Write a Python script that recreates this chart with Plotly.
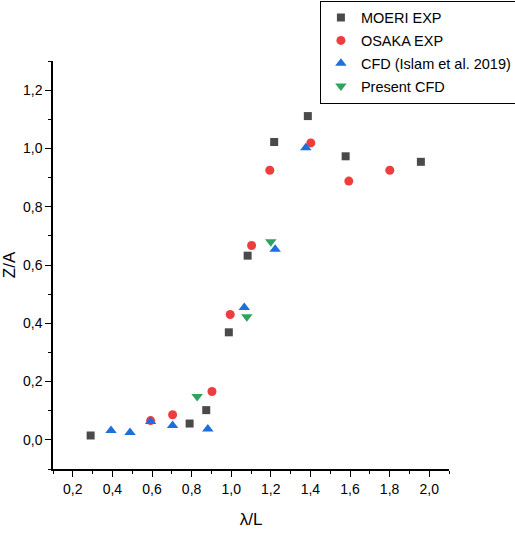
import plotly.graph_objects as go

# Wave-induced heave response Z/A versus wavelength ratio lambda/L
moeri_x = [0.290, 0.790, 0.874, 0.988, 1.083, 1.217, 1.387, 1.578, 1.958]
moeri_y = [0.015, 0.056, 0.102, 0.369, 0.632, 1.022, 1.111, 0.973, 0.954]

osaka_x = [0.593, 0.704, 0.903, 0.995, 1.103, 1.195, 1.402, 1.594, 1.801]
osaka_y = [0.066, 0.086, 0.166, 0.430, 0.667, 0.925, 1.019, 0.888, 0.925]

islam_x = [0.393, 0.489, 0.593, 0.704, 0.882, 1.066, 1.222, 1.377]
islam_y = [0.032, 0.025, 0.063, 0.049, 0.037, 0.454, 0.654, 1.002]

present_x = [0.828, 1.079, 1.200]
present_y = [0.149, 0.422, 0.680]

FONT = "Liberation Sans, Arial, sans-serif"

fig = go.Figure()
fig.add_trace(go.Scatter(x=moeri_x, y=moeri_y, mode="markers", name="MOERI EXP",
                         legendgroup="a",
                         marker=dict(symbol="square", size=8, color="#4a4a4a")))
fig.add_trace(go.Scatter(x=osaka_x, y=osaka_y, mode="markers", name="OSAKA EXP",
                         legendgroup="b",
                         marker=dict(symbol="circle", size=9, color="#ee3d3d")))
fig.add_trace(go.Scatter(x=islam_x, y=islam_y, mode="markers", name="CFD (Islam et al. 2019)",
                         legendgroup="c",
                         marker=dict(symbol="triangle-up", size=10, color="#1e6fdc")))
fig.add_trace(go.Scatter(x=present_x, y=present_y, mode="markers", name="Present CFD",
                         legendgroup="d",
                         marker=dict(symbol="triangle-down", size=10, color="#2ea35c")))

axis_common = dict(
    showgrid=False, zeroline=False, showline=True, linecolor="black", linewidth=1.5,
    ticks="outside", ticklen=6, tickwidth=1.2, tickcolor="black",
    tickfont=dict(family=FONT, size=14, color="black"),
    tickformat=".1f", mirror=False,
)

fig.update_xaxes(range=[0.1, 2.1], tick0=0.2, dtick=0.2,
                 minor=dict(ticks="outside", ticklen=3, tickcolor="black", dtick=0.1, tick0=0.1),
                 title=dict(text="λ/L", font=dict(family=FONT, size=17, color="black"), standoff=18),
                 **axis_common)
fig.update_yaxes(range=[-0.1, 1.3], tick0=0.0, dtick=0.2,
                 minor=dict(ticks="outside", ticklen=3, tickcolor="black", dtick=0.1, tick0=0.1),
                 title=dict(text="Z/A", font=dict(family=FONT, size=17, color="black"), standoff=6),
                 **axis_common)

fig.update_layout(
    width=515, height=533,
    margin=dict(l=53, r=66, t=61, b=64, autoexpand=False),
    paper_bgcolor="white", plot_bgcolor="white",
    separators=",.",
    font=dict(family=FONT, color="black"),
    legend=dict(x=0.674, y=1.148, xanchor="left", yanchor="top",
                bordercolor="black", borderwidth=1, bgcolor="white",
                font=dict(family=FONT, size=14.5, color="black"),
                tracegroupgap=1),
    showlegend=True,
)

fig.write_html("out.html")
